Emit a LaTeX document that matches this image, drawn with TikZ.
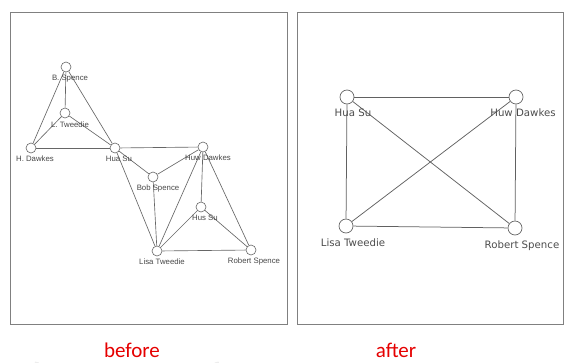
\documentclass[tikz,border=0pt]{standalone}
\usepackage{fontspec}
\setmainfont{Liberation Sans}
\newfontfamily\rightfont{DejaVu Sans}
\newfontfamily\capfont{Carlito}
\pgfdeclarelayer{bg}
\pgfsetlayers{bg,main}
\begin{document}
\begin{tikzpicture}[x=1pt,y=-1pt,
  panel/.style={draw=black!50,line width=0.7pt},
  vsmall/.style={circle,draw=black!60,fill=white,line width=0.6pt,minimum size=10pt,inner sep=0pt},
  vbig/.style={circle,draw=black!60,fill=white,line width=0.7pt,minimum size=14pt,inner sep=0pt},
  lsmall/.style={inner sep=0pt,font=\fontsize{7.8}{8}\selectfont,text=black!72},
  lbig/.style={inner sep=0pt,font=\rightfont\fontsize{10.2}{11}\selectfont,text=black!70},
  esmall/.style={draw=black!60,line width=0.65pt},
  ebig/.style={draw=black!62,line width=0.75pt},
  captext/.style={inner sep=0pt,anchor=base,font=\capfont\fontsize{21}{22}\selectfont,text=red!90!black}]
\useasboundingbox (0,0) rectangle (564,362);
% left graph nodes
\node[vsmall] (bs) at (66,67) {};
\node[vsmall] (lt) at (65,113) {};
\node[vsmall] (hd) at (31,148) {};
\node[vsmall] (hs) at (115,148) {};
\node[vsmall] (hw) at (203,147) {};
\node[vsmall] (bob) at (153,177) {};
\node[vsmall] (hus) at (201,207) {};
\node[vsmall] (lisa) at (157,251) {};
\node[vsmall] (rs) at (251,250) {};
% right graph nodes
\node[vbig] (rhs) at (347,97) {};
\node[vbig] (rhw) at (516,97) {};
\node[vbig] (rlt) at (346,226) {};
\node[vbig] (rrs) at (515,228) {};
\begin{pgfonlayer}{bg}
  % faint background arc
  \draw[black!7,line width=4pt] (37,362) arc[start angle=195,end angle=-15,radius=93];
  % panels
  \draw[panel] (10,12) rectangle (287,324);
  \draw[panel] (297,12) rectangle (563,324);
  \foreach \a/\b in {bs/lt,bs/hd,bs/hs,lt/hd,lt/hs,hd/hs,hs/hw,hs/bob,bob/hw,hs/lisa,bob/lisa,hw/lisa,hw/hus,hw/rs,hus/lisa,hus/rs,lisa/rs}
    \draw[esmall] (\a) -- (\b);
  \foreach \a/\b in {rhs/rhw,rhs/rlt,rhs/rrs,rhw/rlt,rhw/rrs,rlt/rrs}
    \draw[ebig] (\a) -- (\b);
\end{pgfonlayer}
% left labels
\node[lsmall] (tbs) at (70,79) {B. Spence};
\node[lsmall] (tlt) at (70,125) {L. Tweedie};
\node[lsmall] (thd) at (35,159) {H. Dawkes};
\node[lsmall] (ths) at (119,159) {Hua Su};
\node[lsmall] (thw) at (208,158) {Huw Dawkes};
\node[lsmall] (tbob) at (158,188) {Bob Spence};
\node[lsmall] (thus) at (205,218) {Hus Su};
\node[lsmall] (tlisa) at (162,262) {Lisa Tweedie};
\node[lsmall] (trs) at (254,261) {Robert Spence};
% right labels
\node[lbig] (trhs) at (353,113) {Hua Su};
\node[lbig] (trhw) at (523,113) {Huw Dawkes};
\node[lbig] (trlt) at (353,243) {Lisa Tweedie};
\node[lbig] (trrs) at (522,246) {Robert Spence};
% captions
\node[captext] (before) at (132,357.5) {before};
\node[captext] (after) at (396,357.5) {after};
\end{tikzpicture}
\end{document}
